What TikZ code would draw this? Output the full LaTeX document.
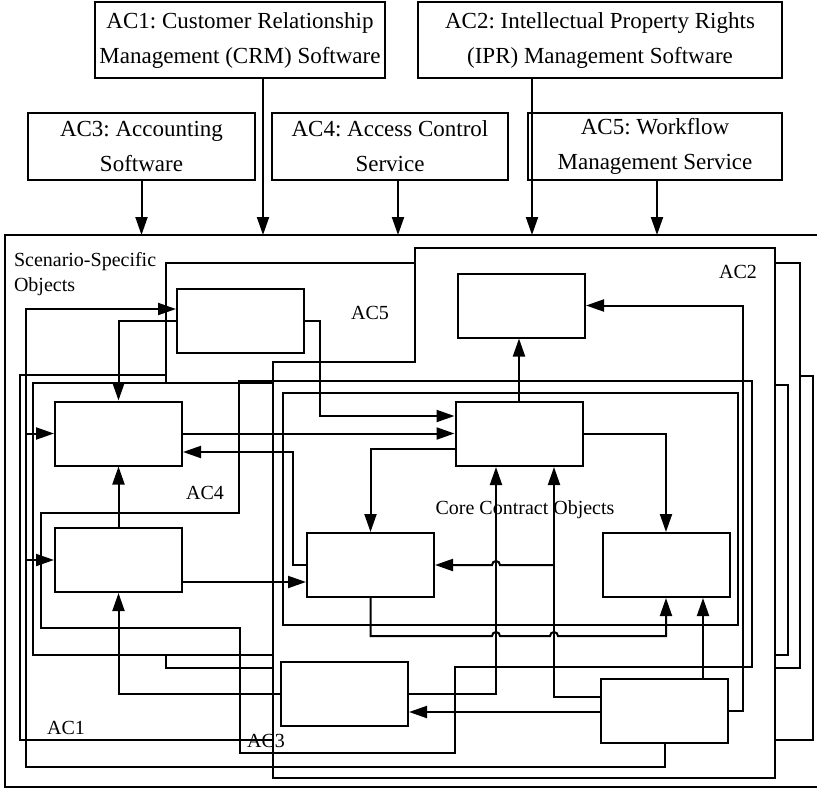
\documentclass[tikz,border=0pt]{standalone}
\usepackage{fontspec}
\setmainfont{Liberation Serif}
\usetikzlibrary{arrows.meta}
\frenchspacing

\begin{document}
\begin{tikzpicture}[x=1pt,y=-1pt,line width=2pt,
	topbox/.style={draw,align=center,inner sep=0pt,font=\fontsize{23}{35}\selectfont},
	objbox/.style={draw,minimum width=127pt,minimum height=64pt,inner sep=0pt},
	lbl/.style={font=\fontsize{20}{25}\selectfont,inner sep=0pt},
	arr/.style={-{Triangle[length=18pt,width=12pt]}}]
			%%%%% START %%%%%
			\useasboundingbox (0,0) rectangle (817,788);
			
			% application components
			\node[topbox,minimum width=290pt,minimum height=76pt] (ac1) at (240,40) {AC1: Customer Relationship\\Management (CRM) Software};
			\node[topbox,minimum width=364pt,minimum height=76pt] (ac2) at (600,40) {AC2: Intellectual Property Rights\\(IPR) Management Software};
			\node[topbox,minimum width=227pt,minimum height=67pt] (ac3) at (141.5,146.5) {AC3: Accounting\\Software};
			\node[topbox,minimum width=236pt,minimum height=67pt] (ac4) at (390,146.5) {AC4: Access Control\\Service};
			\node[topbox,minimum width=254pt,minimum height=67pt] (ac5) at (655,146.5) {AC5: Workflow\\Management Service};
			
			\draw (5,235) rectangle (830,787);
			\coordinate (top) at (0,235);
			
			\draw[arr] (ac3.south) -- (ac3.south |- top);
			\draw[arr] (263,0 |- ac1.south) -- (263,0 |- top);
			\draw[arr] (398,0 |- ac4.south) -- (398,0 |- top);
			\draw[arr] (532,0 |- ac2.south) -- (532,0 |- top);
			\draw[arr] (657,0 |- ac5.south) -- (657,0 |- top);
			
			% regions
			\draw (415,248) -- (775,248) -- (775,778) -- (273,778) -- (273,362) -- (415,362) -- cycle;
			\draw (166,383) -- (166,263) -- (415,263);
			\draw (166,655) -- (166,668) -- (273,668);
			\draw (775,263) -- (800,263) -- (800,668) -- (775,668);
			\draw (166,375) -- (20,375) -- (20,740) -- (273,740);
			\draw (800,376) -- (813,376) -- (813,740) -- (775,740);
			\draw (273,383) -- (33,383) -- (33,655) -- (273,655);
			\draw (775,385) -- (788,385) -- (788,655) -- (775,655);
			\draw (239,513) -- (239,381) -- (752,381) -- (752,667) -- (455,667) -- (455,753) -- (240,753) -- (240,628) -- (41,628) -- (41,513) -- cycle;
			\draw (283,393) rectangle (738,625);
			
			% objects
			\node[objbox] (b1) at (240.5,320.5) {};
			\node[objbox] (b2) at (521.5,305.5) {};
			\node[objbox] (b3) at (118.5,433.5) {};
			\node[objbox] (b4) at (519,434) {};
			\node[objbox] (b5) at (118.5,560) {};
			\node[objbox] (b6) at (370.5,565) {};
			\node[objbox] (b7) at (666,565) {};
			\node[objbox] (b8) at (344.5,694) {};
			\node[objbox] (b9) at (664.5,711) {};
			
			% labels
			\node[lbl,align=left,anchor=north west] (sso) at (13,251) {Scenario-Specific\\Objects};
			\node[lbl] (cco) at (525,510) {Core Contract Objects};
			\node[lbl] (l1) at (66,728) {AC1};
			\node[lbl] (l2) at (738,272) {AC2};
			\node[lbl] (l3) at (266,741) {AC3};
			\node[lbl] (l4) at (205,493) {AC4};
			\node[lbl] (l5) at (370,313) {AC5};
			
			% links
			\draw[arr] (b1.west) -| (b3.north);
			\draw[arr] (b9.south) |- (26,767) |- (b1.west |- 0,309);
			\draw[arr] (26,560) -- (b5.west);
			\draw[arr] (26,433.5) -- (b3.west);
			\draw[arr] (b1.east) -| (320,416) -- (b4.west |- 0,416);
			\draw[arr] (b3.east) -- (b3.east -| b4.west);
			\draw[arr] (b4.west |- 0,449) -| (b6.north);
			\draw[arr] (b6.west) -| (293,452) -- (b3.east |- 0,452);
			\draw[arr] (b5.north) -- (b3.south);
			\draw[arr] (b5.east |- 0,582) -- (b6.west |- 0,582);
			\draw[arr] (b8.west) -| (b5.south);
			\draw[arr] (b4.north) -- (b4.north |- b2.south);
			\draw[arr] (b9.east) -| (743,0 |- b2.east) -- (b2.east);
			\draw[arr] (b4.east) -| (b7.north);
			\draw[arr] (b8.east) -| (496,0 |- b4.south);
			\draw[arr] (b9.west |- 0,697) -| (554,0 |- b4.south);
			\draw[arr] (554,565) -- (500,565) arc[start angle=0,end angle=-180,radius=4] -- (b6.east);
			\draw[arr] (b6.south) |- (492,636) arc[start angle=180,end angle=360,radius=4] -- (550,636) arc[start angle=180,end angle=360,radius=4] -| (b7.south);
			\draw[arr] (703,0 |- b9.north) -- (703,0 |- b7.south);
			\draw[arr] (b9.west |- 0,712) -- (b8.east |- 0,712);
			
			%%%%% END %%%%%
\end{tikzpicture}
\end{document}
